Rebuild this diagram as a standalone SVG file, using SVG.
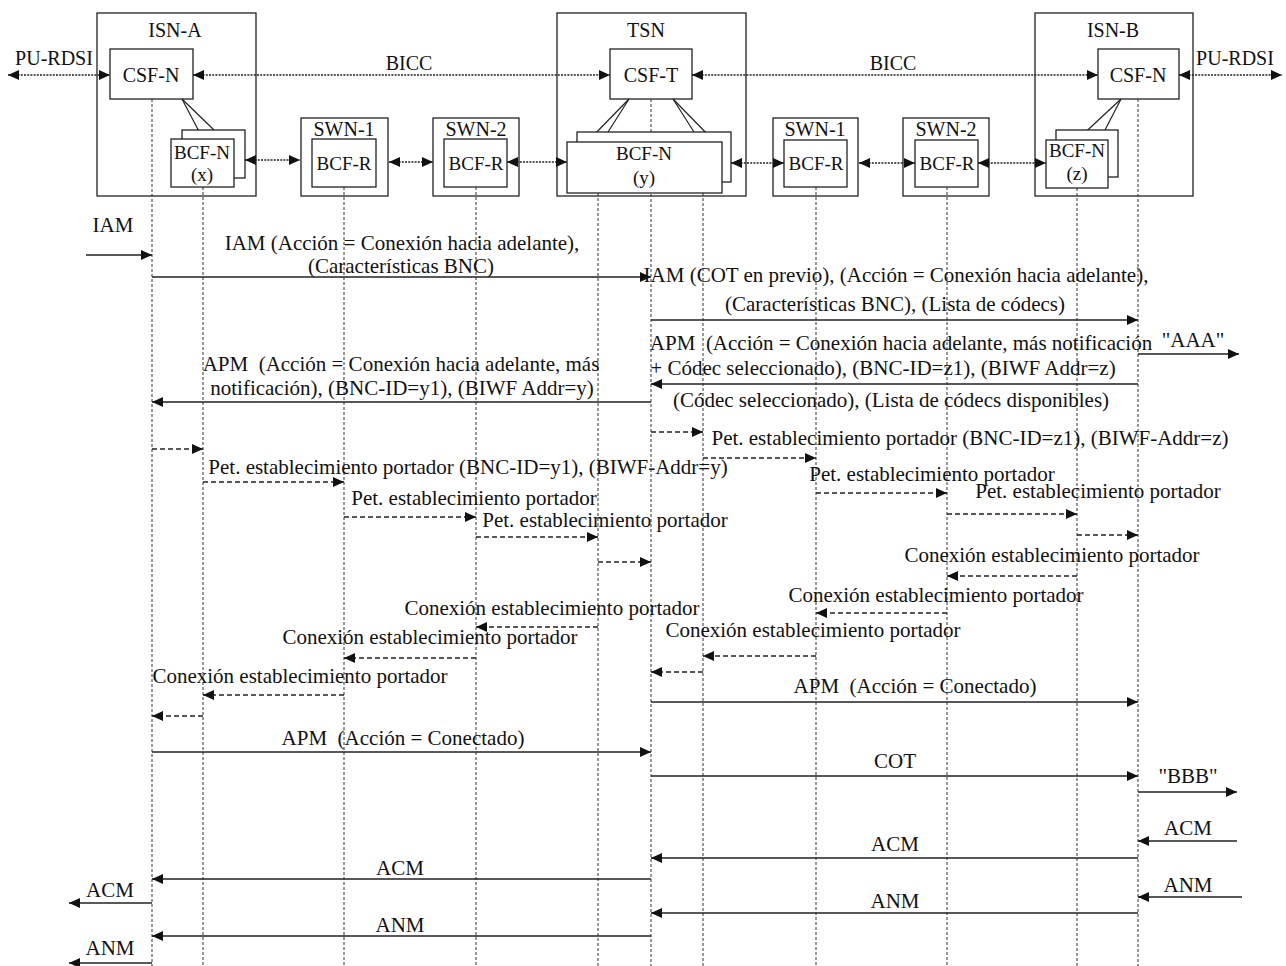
<svg xmlns="http://www.w3.org/2000/svg" width="1286" height="966" viewBox="0 0 1286 966">
<defs>
<style>
.frame{fill:none;stroke:#222;stroke-width:1.3}
.box{fill:#fff;stroke:#222;stroke-width:1.3}
.tie{stroke:#222;stroke-width:1.2;fill:none}
.lbl{font-family:"Liberation Serif","Times New Roman",serif;font-size:20px;fill:#111;text-anchor:middle}
.bl{font-size:19px}
.msg{font-family:"Liberation Serif","Times New Roman",serif;font-size:21px;fill:#111;text-anchor:middle}
.life{stroke:#333;stroke-width:1;stroke-dasharray:3 2;fill:none}
.dot{stroke:#222;stroke-width:1.5;stroke-dasharray:2 1.2;fill:none;marker-start:url(#ah);marker-end:url(#ah)}
.sol{stroke:#222;stroke-width:1.4;fill:none;marker-end:url(#ah)}
.dash{stroke:#222;stroke-width:1.4;stroke-dasharray:5 3;fill:none;marker-end:url(#ah)}
</style>
<marker id="ah" viewBox="0 0 11 10" refX="11" refY="5" markerWidth="11" markerHeight="10" markerUnits="userSpaceOnUse" orient="auto-start-reverse">
<path d="M0,0 L11,5 L0,10 z" fill="#111"/>
</marker>
</defs>
<rect width="1286" height="966" fill="#fff"/>

<g id="lifelines">
<line class="life" x1="152" y1="99" x2="152" y2="966"/>
<line class="life" x1="203" y1="187" x2="203" y2="966"/>
<line class="life" x1="344" y1="187" x2="344" y2="966"/>
<line class="life" x1="476" y1="187" x2="476" y2="966"/>
<line class="life" x1="598" y1="193" x2="598" y2="966"/>
<line class="life" x1="651" y1="99" x2="651" y2="966"/>
<line class="life" x1="703" y1="193" x2="703" y2="966"/>
<line class="life" x1="816" y1="187" x2="816" y2="966"/>
<line class="life" x1="947" y1="187" x2="947" y2="966"/>
<line class="life" x1="1077" y1="188" x2="1077" y2="966"/>
<line class="life" x1="1138" y1="99" x2="1138" y2="966"/>
</g>

<g id="isn-a">
<rect class="frame" x="97" y="13" width="159" height="183"/>
<text class="lbl" x="175" y="37">ISN-A</text>
<rect class="box" x="110" y="49" width="83" height="50"/>
<text class="lbl" x="151" y="82">CSF-N</text>
<line class="tie" x1="182" y1="99" x2="203" y2="139"/>
<line class="tie" x1="182" y1="99" x2="214" y2="130"/>
<rect class="box" x="182" y="130" width="63" height="48"/>
<rect class="box" x="171" y="139" width="63" height="48"/>
<text class="lbl bl" x="202" y="159">BCF-N</text>
<text class="lbl bl" x="202" y="181">(x)</text>
</g>

<g id="swn-1a">
<rect class="frame" x="301" y="118" width="87" height="78"/>
<text class="lbl" x="344" y="136">SWN-1</text>
<rect class="box" x="312" y="139" width="64" height="48"/>
<text class="lbl bl" x="344" y="170">BCF-R</text>
</g>

<g id="swn-2a">
<rect class="frame" x="433" y="118" width="86" height="78"/>
<text class="lbl" x="476" y="136">SWN-2</text>
<rect class="box" x="444" y="139" width="63" height="48"/>
<text class="lbl bl" x="476" y="170">BCF-R</text>
</g>

<g id="tsn">
<rect class="frame" x="557" y="13" width="189" height="183"/>
<text class="lbl" x="646" y="37">TSN</text>
<rect class="box" x="610" y="49" width="82" height="50"/>
<text class="lbl" x="651" y="82">CSF-T</text>
<line class="tie" x1="629" y1="99" x2="587" y2="142"/>
<line class="tie" x1="629" y1="99" x2="608" y2="132"/>
<line class="tie" x1="673" y1="99" x2="694" y2="132"/>
<line class="tie" x1="673" y1="99" x2="715" y2="142"/>
<rect class="box" x="577" y="132" width="154" height="50"/>
<rect class="box" x="567" y="142" width="155" height="51"/>
<text class="lbl bl" x="644" y="160">BCF-N</text>
<text class="lbl bl" x="644" y="184">(y)</text>
</g>

<g id="swn-1b">
<rect class="frame" x="773" y="118" width="85" height="78"/>
<text class="lbl" x="815" y="136">SWN-1</text>
<rect class="box" x="784" y="140" width="63" height="47"/>
<text class="lbl bl" x="816" y="170">BCF-R</text>
</g>

<g id="swn-2b">
<rect class="frame" x="903" y="118" width="86" height="78"/>
<text class="lbl" x="946" y="136">SWN-2</text>
<rect class="box" x="915" y="140" width="63" height="47"/>
<text class="lbl bl" x="947" y="170">BCF-R</text>
</g>

<g id="isn-b">
<rect class="frame" x="1035" y="13" width="158" height="183"/>
<text class="lbl" x="1113" y="37">ISN-B</text>
<rect class="box" x="1098" y="49" width="81" height="50"/>
<text class="lbl" x="1138" y="82">CSF-N</text>
<line class="tie" x1="1121" y1="99" x2="1077" y2="140"/>
<line class="tie" x1="1121" y1="99" x2="1105" y2="130"/>
<rect class="box" x="1056" y="130" width="62" height="47"/>
<rect class="box" x="1046" y="140" width="62" height="48"/>
<text class="lbl bl" x="1077" y="157">BCF-N</text>
<text class="lbl bl" x="1077" y="180">(z)</text>
</g>

<g id="connectors">
<line class="dot" x1="8" y1="75" x2="110" y2="75"/>
<text class="lbl" x="54" y="65">PU-RDSI</text>
<line class="dot" x1="193" y1="75" x2="610" y2="75"/>
<text class="lbl" x="409" y="70">BICC</text>
<line class="dot" x1="692" y1="75" x2="1098" y2="75"/>
<text class="lbl" x="893" y="70">BICC</text>
<line class="dot" x1="1179" y1="75" x2="1282" y2="75"/>
<text class="lbl" x="1235" y="65">PU-RDSI</text>
<line class="dot" x1="245" y1="160" x2="300" y2="160"/>
<line class="dot" x1="389" y1="162" x2="433" y2="162"/>
<line class="dot" x1="507" y1="162" x2="567" y2="162"/>
<line class="dot" x1="731" y1="163" x2="784" y2="163"/>
<line class="dot" x1="859" y1="163" x2="915" y2="163"/>
<line class="dot" x1="978" y1="163" x2="1046" y2="163"/>

<text class="msg" x="113" y="232">IAM</text>
<line class="sol" x1="86" y1="255" x2="152" y2="255"/>
<text class="msg" x="402" y="250">IAM (Acción = Conexión hacia adelante),</text>
<text class="msg" x="401" y="273">(Características BNC)</text>
<line class="sol" x1="152" y1="277" x2="651" y2="277"/>
<text class="msg" x="896" y="282">IAM (COT en previo), (Acción = Conexión hacia adelante),</text>
<text class="msg" x="895" y="311">(Características BNC), (Lista de códecs)</text>
<line class="sol" x1="651" y1="320" x2="1138" y2="320"/>
<text class="msg" x="901" y="350" xml:space="preserve">APM  (Acción = Conexión hacia adelante, más notificación</text>
<text class="msg" x="883" y="375">+ Códec seleccionado), (BNC-ID=z1), (BIWF Addr=z)</text>
<line class="sol" x1="1138" y1="384" x2="651" y2="384"/>
<text class="msg" x="891" y="407">(Códec seleccionado), (Lista de códecs disponibles)</text>
<text class="msg" x="1193" y="347">"AAA"</text>
<line class="sol" x1="1138" y1="354" x2="1239" y2="354"/>
<text class="msg" x="401" y="371" xml:space="preserve">APM  (Acción = Conexión hacia adelante, más</text>
<text class="msg" x="402" y="395">notificación), (BNC-ID=y1), (BIWF Addr=y)</text>
<line class="sol" x1="651" y1="402" x2="152" y2="402"/>

<line class="dash" x1="651" y1="432" x2="703" y2="432"/>
<text class="msg" x="970" y="445">Pet. establecimiento portador (BNC-ID=z1), (BIWF-Addr=z)</text>
<line class="dash" x1="152" y1="449" x2="203" y2="449"/>
<line class="dash" x1="703" y1="458" x2="816" y2="458"/>
<text class="msg" x="468" y="474">Pet. establecimiento portador (BNC-ID=y1), (BIWF-Addr=y)</text>
<text class="msg" x="932" y="481">Pet. establecimiento portador</text>
<line class="dash" x1="203" y1="482" x2="344" y2="482"/>
<line class="dash" x1="816" y1="493" x2="947" y2="493"/>
<text class="msg" x="1098" y="498">Pet. establecimiento portador</text>
<text class="msg" x="474" y="505">Pet. establecimiento portador</text>
<line class="dash" x1="947" y1="514" x2="1077" y2="514"/>
<line class="dash" x1="344" y1="517" x2="476" y2="517"/>
<text class="msg" x="605" y="527">Pet. establecimiento portador</text>
<line class="dash" x1="1077" y1="535" x2="1138" y2="535"/>
<line class="dash" x1="476" y1="537" x2="598" y2="537"/>
<line class="dash" x1="598" y1="562" x2="651" y2="562"/>
<text class="msg" x="1052" y="562">Conexión establecimiento portador</text>
<line class="dash" x1="1077" y1="576" x2="947" y2="576"/>
<text class="msg" x="936" y="602">Conexión establecimiento portador</text>
<line class="dash" x1="947" y1="613" x2="816" y2="613"/>
<text class="msg" x="552" y="615">Conexión establecimiento portador</text>
<line class="dash" x1="598" y1="627" x2="476" y2="627"/>
<text class="msg" x="813" y="637">Conexión establecimiento portador</text>
<text class="msg" x="430" y="644">Conexión establecimiento portador</text>
<line class="dash" x1="816" y1="656" x2="703" y2="656"/>
<line class="dash" x1="476" y1="658" x2="344" y2="658"/>
<line class="dash" x1="703" y1="672" x2="651" y2="672"/>
<text class="msg" x="300" y="683">Conexión establecimiento portador</text>
<line class="dash" x1="344" y1="695" x2="203" y2="695"/>
<line class="dash" x1="203" y1="716" x2="152" y2="716"/>

<text class="msg" x="915" y="693" xml:space="preserve">APM  (Acción = Conectado)</text>
<line class="sol" x1="651" y1="702" x2="1138" y2="702"/>
<text class="msg" x="403" y="745" xml:space="preserve">APM  (Acción = Conectado)</text>
<line class="sol" x1="152" y1="752" x2="651" y2="752"/>
<text class="msg" x="895" y="768">COT</text>
<line class="sol" x1="651" y1="776" x2="1138" y2="776"/>
<text class="msg" x="1188" y="783">"BBB"</text>
<line class="sol" x1="1138" y1="792" x2="1237" y2="792"/>
<text class="msg" x="1188" y="835">ACM</text>
<line class="sol" x1="1237" y1="841" x2="1138" y2="841"/>
<text class="msg" x="895" y="851">ACM</text>
<line class="sol" x1="1138" y1="858" x2="651" y2="858"/>
<text class="msg" x="400" y="875">ACM</text>
<line class="sol" x1="651" y1="879" x2="152" y2="879"/>
<text class="msg" x="110" y="897">ACM</text>
<line class="sol" x1="152" y1="903" x2="69" y2="903"/>
<text class="msg" x="1188" y="892">ANM</text>
<line class="sol" x1="1242" y1="897" x2="1138" y2="897"/>
<text class="msg" x="895" y="908">ANM</text>
<line class="sol" x1="1138" y1="913" x2="651" y2="913"/>
<text class="msg" x="400" y="932">ANM</text>
<line class="sol" x1="651" y1="936" x2="152" y2="936"/>
<text class="msg" x="110" y="955">ANM</text>
<line class="sol" x1="152" y1="963" x2="69" y2="963"/>
</g>
</svg>
